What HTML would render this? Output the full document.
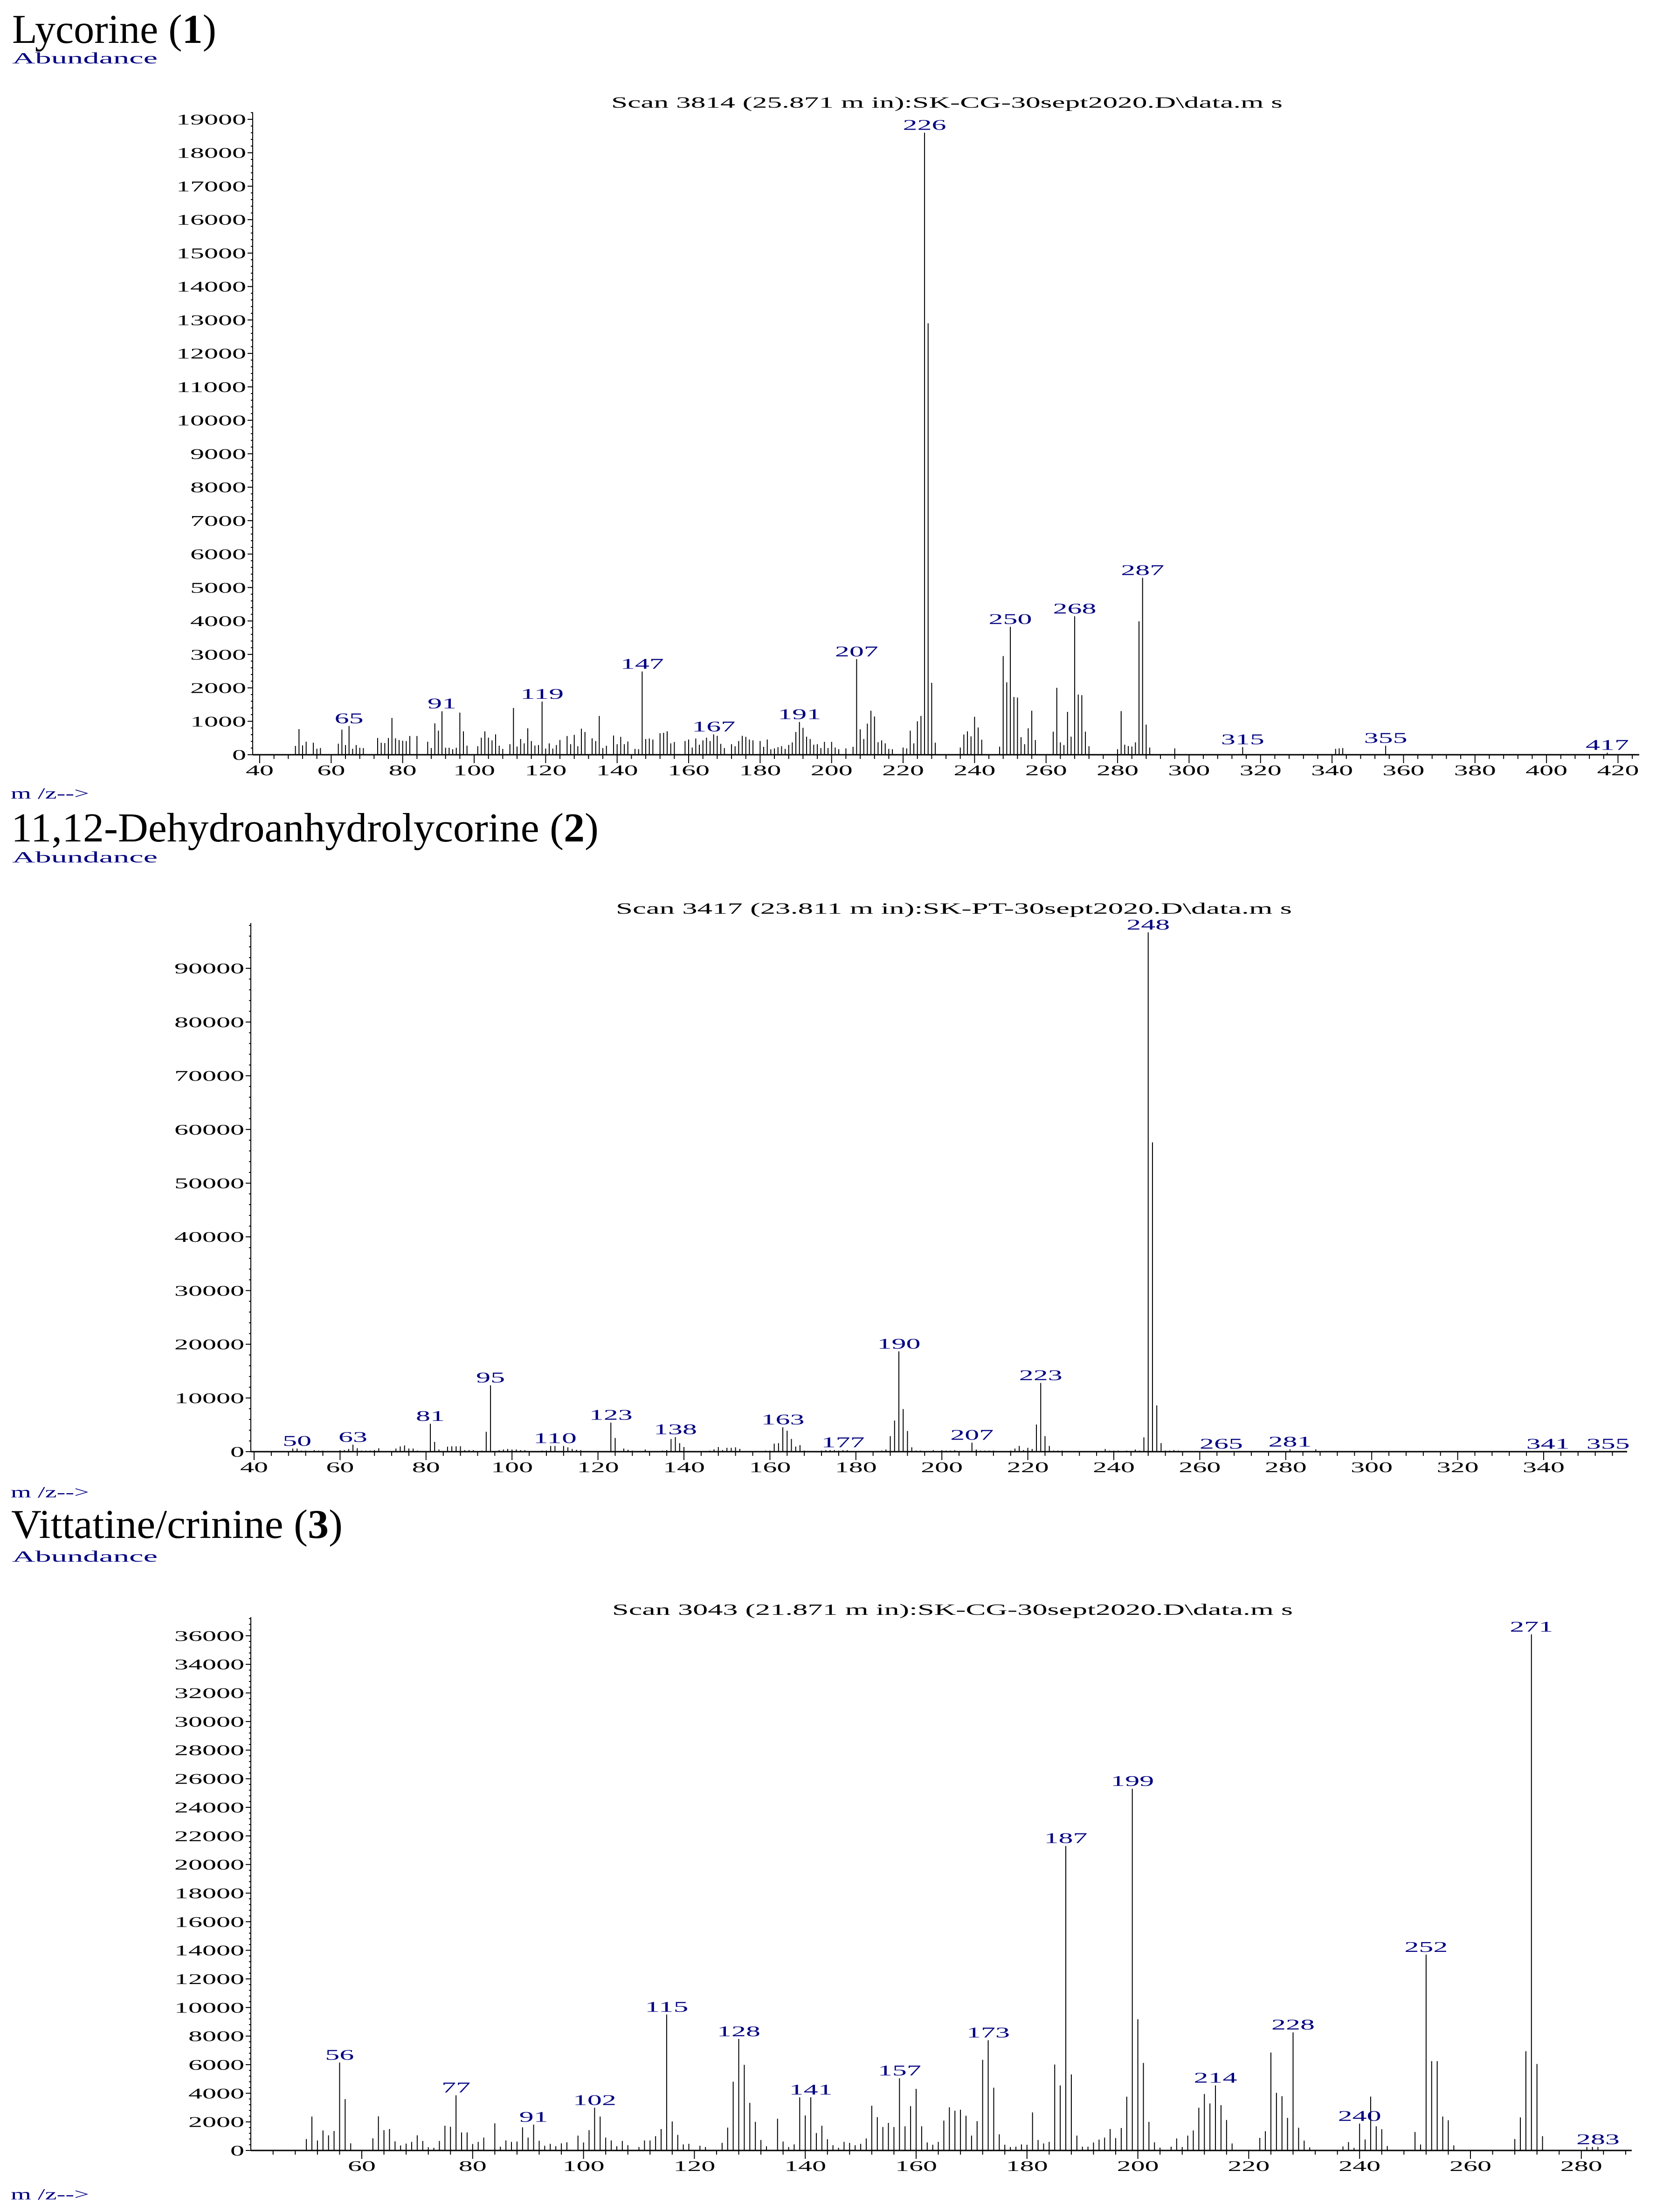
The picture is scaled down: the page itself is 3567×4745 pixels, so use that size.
<!DOCTYPE html>
<html><head><meta charset="utf-8"><style>
html,body{margin:0;padding:0;background:#fff;}
svg{display:block;}
text{font-family:"Liberation Serif",serif;}
</style></head><body>
<svg id="fig" width="3567" height="4745" viewBox="0 0 3567 4745" xmlns="http://www.w3.org/2000/svg">
<text x="26" y="92" font-size="88" textLength="438" lengthAdjust="spacingAndGlyphs">Lycorine (<tspan font-weight="bold">1</tspan>)</text>
<text x="26" y="136" font-size="34" fill="#000080" textLength="312" lengthAdjust="spacingAndGlyphs">Abundance</text>
<text x="2031" y="231" font-size="34" text-anchor="middle" textLength="1440" lengthAdjust="spacingAndGlyphs">Scan 3814 (25.871 m in):SK-CG-30sept2020.D\data.m s</text>
<text x="23" y="1713" font-size="34" fill="#000080" textLength="168" lengthAdjust="spacingAndGlyphs">m /z--&gt;</text>

<text x="24" y="1805" font-size="88" textLength="1260" lengthAdjust="spacingAndGlyphs">11,12-Dehydroanhydrolycorine (<tspan font-weight="bold">2</tspan>)</text>
<text x="26" y="1850" font-size="34" fill="#000080" textLength="312" lengthAdjust="spacingAndGlyphs">Abundance</text>
<text x="2046" y="1960" font-size="34" text-anchor="middle" textLength="1450" lengthAdjust="spacingAndGlyphs">Scan 3417 (23.811 m in):SK-PT-30sept2020.D\data.m s</text>
<text x="23" y="3212" font-size="34" fill="#000080" textLength="168" lengthAdjust="spacingAndGlyphs">m /z--&gt;</text>

<text x="24" y="3299" font-size="88" textLength="711" lengthAdjust="spacingAndGlyphs">Vittatine/crinine (<tspan font-weight="bold">3</tspan>)</text>
<text x="26" y="3350" font-size="34" fill="#000080" textLength="312" lengthAdjust="spacingAndGlyphs">Abundance</text>
<text x="2043" y="3464" font-size="34" text-anchor="middle" textLength="1460" lengthAdjust="spacingAndGlyphs">Scan 3043 (21.871 m in):SK-CG-30sept2020.D\data.m s</text>
<text x="23" y="4718" font-size="34" fill="#000080" textLength="168" lengthAdjust="spacingAndGlyphs">m /z--&gt;</text>
</svg>
<script>
// ---------- Chart 1: Lycorine ----------
const c1Mz = [50,51,52,53,55,56,57,62,63,64,65,66,67,68,69,73,74,75,76,77,78,79,80,81,82,84,87,88,89,90,91,92,93,94,95,96,97,98,101,102,103,104,105,106,107,108,110,111,112,113,114,115,116,117,118,119,120,121,122,123,124,126,127,128,129,130,131,133,134,135,136,137,139,140,141,142,143,145,146,147,148,149,150,152,153,154,155,156,159,160,161,162,163,164,165,166,167,168,169,170,172,173,174,175,176,177,178,180,181,182,183,184,185,186,187,188,189,190,191,192,193,194,195,196,197,198,199,200,201,202,204,206,207,208,209,210,211,212,213,214,215,216,217,220,221,222,223,224,225,226,227,228,229,236,237,238,239,240,241,242,247,248,249,250,251,252,253,254,255,256,257,262,263,264,265,266,267,268,269,270,271,272,280,281,282,283,284,285,286,287,288,289,296,315,341,342,343,355,417];
const c1Ab = [265,767,280,390,360,180,200,330,750,290,860,180,290,210,200,500,360,350,500,1100,490,440,420,410,560,560,390,200,940,720,1300,210,210,165,210,1260,700,270,255,510,700,510,430,610,270,175,315,1400,245,470,340,790,410,275,290,1590,185,340,185,290,440,560,315,595,255,780,680,490,410,1160,200,270,575,315,535,315,395,175,165,2490,470,485,455,645,655,700,340,380,410,455,215,485,300,430,510,410,610,565,325,200,315,255,410,565,535,455,430,410,235,455,165,190,225,255,175,295,370,680,980,805,540,470,300,315,200,385,200,385,215,165,190,235,2860,760,470,930,1315,1145,375,430,340,175,165,215,190,720,340,1000,1160,18600,12900,2150,360,215,605,700,550,1135,815,450,240,2950,2165,3825,1725,1710,525,315,790,1315,440,690,2000,370,290,1280,540,4140,1800,1780,690,255,165,1305,300,260,245,370,3990,5290,900,215,190,230,175,190,200,270,60];
const c1Labels = [65,91,119,147,167,191,207,226,250,268,287,315,355,417];
const c1XTicks = [40,60,80,100,120,140,160,180,200,220,240,260,280,300,320,340,360,380,400,420];
const c1YTicks = [0,1000,2000,3000,4000,5000,6000,7000,8000,9000,10000,11000,12000,13000,14000,15000,16000,17000,18000,19000];

// ---------- Chart 2: 11,12-Dehydroanhydrolycorine ----------
const c2Mz = [49,50,51,52,54,55,56,57,60,61,62,63,64,65,66,67,68,69,70,73,74,75,76,77,78,81,82,83,85,86,87,88,89,90,91,93,94,95,97,98,99,100,101,102,103,107,108,109,110,112,113,114,115,116,119,120,121,123,124,126,127,128,129,131,133,134,135,136,137,138,139,140,141,142,143,144,146,147,148,149,150,151,152,153,154,159,160,161,162,163,164,165,166,167,168,172,173,174,175,176,177,178,180,181,183,185,186,187,188,189,190,191,192,193,194,195,197,198,200,201,202,203,205,207,208,209,210,211,212,216,217,218,219,220,221,222,223,224,225,226,227,228,238,239,240,241,243,245,246,247,248,249,250,251,252,253,254,255,265,281,287,341,355];
const c2Ab = [580,580,200,200,290,200,200,120,290,290,500,1300,640,200,200,200,300,640,120,580,980,1160,580,580,200,5200,1820,400,930,1010,1010,1010,290,290,290,200,3700,12360,290,400,500,400,400,290,290,200,200,1070,1070,1070,810,500,350,290,120,120,120,5410,2550,580,350,200,120,400,120,120,200,290,2370,2720,1590,870,120,120,120,120,200,440,870,290,720,720,810,520,120,200,200,1500,1590,4540,3900,2370,955,1215,200,200,290,290,290,200,290,290,120,120,120,120,200,400,2890,5790,18670,7930,3850,810,200,200,120,290,290,200,200,290,120,1680,400,200,200,200,200,200,580,1070,290,720,500,5060,12790,2890,1070,200,200,200,500,200,200,200,200,400,200,2660,96700,57600,8620,1590,200,200,290,200,60,430,430,60,60];
const c2Labels = [50,63,81,95,110,123,138,163,177,190,207,223,248,265,281,341,355];
const c2XTicks = [40,60,80,100,120,140,160,180,200,220,240,260,280,300,320,340];
const c2YTicks = [0,10000,20000,30000,40000,50000,60000,70000,80000,90000];

// ---------- Chart 3: Vittatine/crinine ----------
const c3Mz = [50,51,52,53,54,55,56,57,58,62,63,64,65,66,67,68,69,70,71,72,73,74,75,76,77,78,79,80,81,82,84,85,86,87,88,89,90,91,92,93,94,95,96,97,99,100,101,102,103,104,105,106,107,108,110,111,112,113,114,115,116,117,118,119,121,122,125,126,127,128,129,130,131,132,133,135,136,137,138,139,140,141,142,143,144,145,146,147,148,149,150,151,152,153,154,155,156,157,158,159,160,161,162,163,164,165,166,167,168,169,170,171,172,173,174,175,176,177,178,179,180,181,182,183,184,185,186,187,188,189,190,191,192,193,194,195,196,197,198,199,200,201,202,203,204,206,207,208,209,210,211,212,213,214,215,216,217,222,223,224,225,226,227,228,229,230,231,237,238,239,240,241,242,243,244,245,250,251,252,253,254,255,256,257,268,269,270,271,272,273,281,282,283];
const c3Ab = [800,2370,700,1400,1060,1360,6150,3590,500,850,2390,1420,1500,640,350,480,600,1060,665,225,185,665,1730,1660,3860,1260,1260,450,600,900,1900,265,700,600,625,1620,900,1810,680,330,465,300,500,570,1040,560,1420,2990,2370,900,700,300,665,370,240,700,700,1000,1500,9510,2030,1090,425,465,330,240,530,1600,4810,7800,5990,3330,2000,730,290,2220,625,240,425,3720,2450,3720,1220,1730,785,370,185,600,530,370,465,840,3130,2330,1640,1930,1640,5050,1690,3100,4310,1690,560,400,600,2090,3020,2780,2850,2430,1040,2050,6340,7710,4390,1130,400,240,265,425,400,2660,730,490,600,6010,4550,21300,5320,1040,265,265,560,760,900,1500,865,1570,3760,25300,9180,6120,2000,570,200,265,840,240,1040,1400,2990,3950,3290,4550,3170,2130,490,880,1350,6850,4030,3800,2280,8260,1590,690,215,280,585,185,1880,770,3770,1690,1490,310,1290,415,13700,6250,6250,2370,2110,355,800,2310,6940,36100,6050,1000,245,245,245];
const c3Labels = [56,77,91,102,115,128,141,157,173,187,199,214,228,240,252,271,283];
const c3XTicks = [60,80,100,120,140,160,180,200,220,240,260,280];
const c3YTicks = [0,2000,4000,6000,8000,10000,12000,14000,16000,18000,20000,22000,24000,26000,28000,30000,32000,34000,36000];

const NS = "http://www.w3.org/2000/svg";
const svg = document.getElementById('fig');
function mk(tag, attrs, parent) {
  const e = document.createElementNS(NS, tag);
  for (const k in attrs) e.setAttribute(k, attrs[k]);
  (parent || svg).appendChild(e);
  return e;
}

const charts = [
  {id:1, mz:c1Mz, ab:c1Ab, labels:c1Labels, xt:c1XTicks, yt:c1YTicks,
   x0:557, m0:40, px:7.667, y0:1619, py:0.07174, axX:542, axTop:241, xEnd:3516, mMin:40, mMax:425, yMinor:200},
  {id:2, mz:c2Mz, ab:c2Ab, labels:c2Labels, xt:c2XTicks, yt:c2YTicks,
   x0:545, m0:40, px:9.22, y0:3114, py:0.01152, axX:538, axTop:1980, xEnd:3490, mMin:40, mMax:359, yMinor:2000},
  {id:3, mz:c3Mz, ab:c3Ab, labels:c3Labels, xt:c3XTicks, yt:c3YTicks,
   x0:776, m0:60, px:11.89, y0:4613, py:0.03067, axX:538, axTop:3469, xEnd:3500, mMin:44, mMax:289, yMinor:400}
];

charts.forEach(c => {
  const X = m => c.x0 + (m - c.m0) * c.px;
  const Y = v => c.y0 - v * c.py;
  const g = mk('g', {});
  
  

  // axes
  const ya = mk('line', {x1:c.axX, y1:c.axTop, x2:c.axX, y2:c.y0+1, stroke:'#000', 'stroke-width':2}, g);
  
  
  const xa = mk('line', {x1:c.axX, y1:c.y0, x2:c.xEnd, y2:c.y0, stroke:'#000', 'stroke-width':3}, g);
  
  

  // y minor ticks
  const yMax = c.yt[c.yt.length-1];
  for (let v = 0; v <= yMax + c.yMinor*5 && Y(v) >= c.axTop; v += c.yMinor) {
    const t = mk('line', {x1:c.axX-4, y1:Y(v), x2:c.axX, y2:Y(v), stroke:'#000', 'stroke-width':2}, g);
    
    
  }
  c.yt.forEach(v => {
    const t = mk('line', {x1:c.axX-11, y1:Y(v), x2:c.axX, y2:Y(v), stroke:'#000', 'stroke-width':2}, g);
    
    
    const s = String(v);
    const tx = mk('text', {x:c.axX-14, y:Y(v)+11, 'font-size':32, 'text-anchor':'end', textLength:s.length*30, lengthAdjust:'spacingAndGlyphs'}, g);
    tx.textContent = s;
    
    
  });

  // x ticks
  for (let m = c.mMin; m <= c.mMax; m += 4) {
    const major = (m % 20 === 0);
    const t = mk('line', {x1:X(m), y1:c.y0, x2:X(m), y2:c.y0 + (major ? 18 : 9), stroke:'#000', 'stroke-width':2}, g);
    
    
  }
  c.xt.forEach(m => {
    const s = String(m);
    const tx = mk('text', {x:X(m), y:c.y0+44, 'font-size':32, 'text-anchor':'middle', textLength:s.length*30, lengthAdjust:'spacingAndGlyphs'}, g);
    tx.textContent = s;
    
    
  });

  // bars
  c.mz.forEach((m, i) => {
    const b = mk('line', {x1:X(m), y1:c.y0, x2:X(m), y2:Y(c.ab[i]), stroke:'#000', 'stroke-width':2}, g);
    
    
  });

  // peak labels
  c.labels.forEach(m => {
    const i = c.mz.indexOf(m);
    const v = i >= 0 ? c.ab[i] : 0;
    const s = String(m);
    const tx = mk('text', {x:X(m), y:Y(v)-6, 'font-size':32, fill:'#000080', 'text-anchor':'middle', textLength:s.length*31, lengthAdjust:'spacingAndGlyphs'}, g);
    tx.textContent = s;
    
    
  });
});
</script>
</body></html>
